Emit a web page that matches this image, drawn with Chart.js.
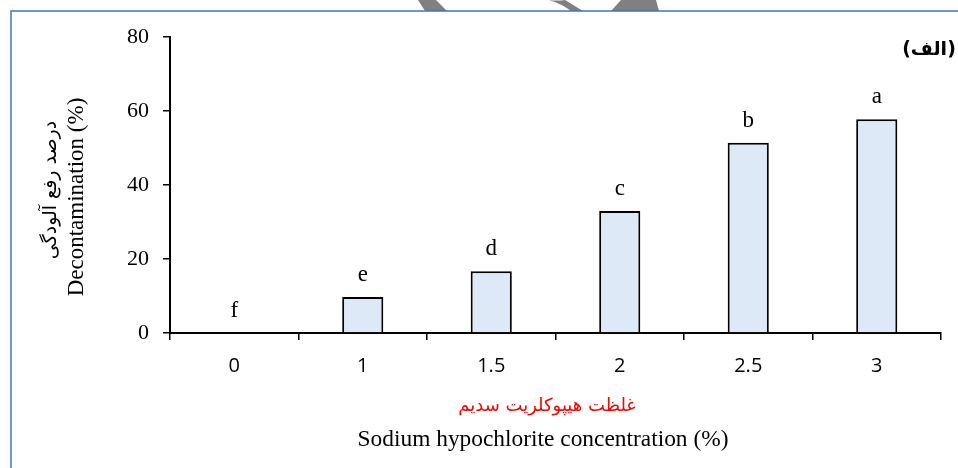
<!DOCTYPE html>
<html>
<head>
<meta charset="utf-8">
<script src="https://cdn.jsdelivr.net/npm/chart.js@4.4.0/dist/chart.umd.min.js"></script>
<style>
  html,body{margin:0;padding:0;background:#fff;}
  #wrap{width:958px;height:468px;position:relative;}
</style>
</head>
<body>
<div id="wrap"><canvas id="chart"></canvas></div>
<script>
// concentration of sodium hypochlorite (%)
const categories = ['0', '1', '1.5', '2', '2.5', '3'];
// decontamination (%)
const decontamination = [0, 9.7, 16.7, 33, 51.4, 57.8];
// mean comparison letters
const groupLetters = ['f', 'e', 'd', 'c', 'b', 'a'];
const yTicks = [0, 20, 40, 60, 80];

const yTitleFa = 'درصد رفع آلودگی';
const yTitleEn = 'Decontamination (%)';
const xTitleFa = 'غلظت هیپوکلریت سدیم';
const xTitleEn = 'Sodium hypochlorite concentration (%)';
const panelTag = '(الف)';

const serif = '"Liberation Serif", "Times New Roman", serif';
const arabic = '"DejaVu Sans", sans-serif';

// page frame + watermark bits + texts
const decor = {
  id: 'decor',
  beforeDraw(chart){
    const c = chart.ctx;
    c.save();
    c.fillStyle = '#fff';
    c.fillRect(0, 0, chart.width, chart.height);
    // grey watermark pieces peeking over the frame
    c.fillStyle = '#808080';
    c.beginPath(); c.moveTo(418,0); c.lineTo(436,0); c.lineTo(447,11); c.lineTo(425,11); c.closePath(); c.fill();
    c.beginPath(); c.moveTo(549,0); c.quadraticCurveTo(558,1,565,0); c.lineTo(583,11); c.lineTo(571,11); c.quadraticCurveTo(562,4,549,0); c.fill();
    c.beginPath(); c.moveTo(621,0); c.lineTo(656,0); c.lineTo(659,11); c.lineTo(611,11); c.closePath(); c.fill();
    c.strokeStyle = '#4472c4';
    c.lineWidth = 1.5;
    c.beginPath();
    c.moveTo(11, chart.height); c.lineTo(11, 11); c.lineTo(chart.width, 11);
    c.stroke();
    c.restore();
  },
  afterDraw(chart){
    const c = chart.ctx;
    const xs = chart.scales.x, ys = chart.scales.y;
    c.save();
    c.fillStyle = '#000';
    c.textAlign = 'center';
    c.textBaseline = 'alphabetic';
    c.font = '23px ' + serif;
    groupLetters.forEach((l, i) => {
      c.fillText(l, xs.getPixelForValue(i), ys.getPixelForValue(decontamination[i]) - 16);
    });

    // x titles
    c.direction = 'rtl';
    c.fillStyle = '#ff0000';
    c.font = '18px ' + arabic;
    c.textBaseline = 'middle';
    c.fillText(xTitleFa, 547, 406);
    c.direction = 'ltr';
    c.fillStyle = '#000';
    c.font = '23.4px ' + serif;
    c.textBaseline = 'alphabetic';
    c.fillText(xTitleEn, 543, 446);

    // y titles
    c.save();
    c.translate(83, 197);
    c.rotate(-Math.PI / 2);
    c.font = '23px ' + serif;
    c.fillText(yTitleEn, 0, 0);
    c.restore();
    c.save();
    c.translate(51, 190);
    c.rotate(-Math.PI / 2);
    c.direction = 'rtl';
    c.font = '19px ' + arabic;
    c.textBaseline = 'middle';
    c.fillText(yTitleFa, 0, 0);
    c.restore();

    // panel tag
    c.direction = 'rtl';
    c.font = 'bold 19px ' + arabic;
    c.textBaseline = 'middle';
    c.fillText(panelTag, 929, 50);
    c.restore();
  }
};

new Chart(document.getElementById('chart'), {
  type: 'bar',
  data: {
    labels: categories,
    datasets: [{
      data: decontamination,
      backgroundColor: '#dde9f6',
      borderColor: '#000',
      borderWidth: 2,
      borderSkipped: 'bottom',
      categoryPercentage: 1,
      barPercentage: 0.32
    }]
  },
  options: {
    responsive: true,
    maintainAspectRatio: false,
    animation: false,
    layout: { padding: { left: 0, right: 17, top: 37, bottom: 0 } },
    plugins: { legend: { display: false }, tooltip: { enabled: false } },
    scales: {
      x: {
        grid: { drawOnChartArea: false, tickLength: 7, color: '#000', lineWidth: 1.5, offset: true },
        border: { color: '#000', width: 2 },
        ticks: { color: '#000', padding: 14, font: { family: '"Open Sans", sans-serif', size: 20 } },
        afterFit(s){ s.height = 135; }
      },
      y: {
        min: 0, max: 80,
        afterBuildTicks(s){ s.ticks = yTicks.map(v => ({ value: v })); },
        grid: { drawOnChartArea: false, tickLength: 7, color: '#000', lineWidth: 1.5 },
        border: { color: '#000', width: 2 },
        ticks: { color: '#000', padding: 14, font: { family: serif, size: 22 } },
        afterFit(s){ s.width = 170; }
      }
    }
  },
  plugins: [decor]
});
</script>
</body>
</html>
